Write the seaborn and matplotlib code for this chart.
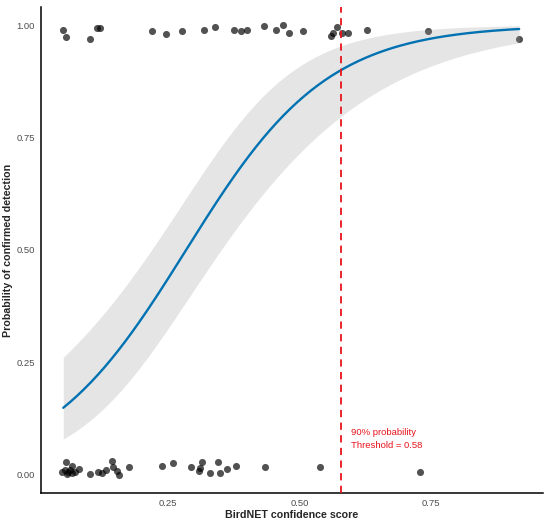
import numpy as np
import pandas as pd
import matplotlib
matplotlib.use("Agg")
import matplotlib.pyplot as plt
import seaborn as sns

top_x = [0.051, 0.0567, 0.1017, 0.1144, 0.1207, 0.219, 0.2456, 0.2766, 0.3184,
         0.3388, 0.3755, 0.3894, 0.4002, 0.4325, 0.4548, 0.468, 0.4806, 0.5072,
         0.5593, 0.5643, 0.5707, 0.5802, 0.5916, 0.6289, 0.7437, 0.9179]
top_y = [0.990, 0.973, 0.970, 0.993, 0.993, 0.986, 0.979, 0.986, 0.990,
         0.995, 0.989, 0.987, 0.989, 0.997, 0.990, 0.999, 0.982, 0.987,
         0.975, 0.982, 0.995, 0.982, 0.982, 0.989, 0.986, 0.969]
bot_x = [0.0555, 0.068, 0.0542, 0.0605, 0.0574, 0.0669, 0.0732, 0.0808, 0.0637,
         0.0494, 0.1017, 0.1179, 0.1251, 0.1318, 0.1435, 0.1449, 0.154, 0.1574,
         0.1764, 0.238, 0.2595, 0.2932, 0.3146, 0.3108, 0.3095, 0.3298, 0.345,
         0.3494, 0.3616, 0.3798, 0.4338, 0.5384, 0.7285]
bot_y = [0.028, 0.021, 0.011, 0.007, 0.002, 0.004, 0.007, 0.013, 0.011,
         0.007, 0.002, 0.007, 0.004, 0.011, 0.030, 0.017, 0.008, 0.000,
         0.018, 0.019, 0.026, 0.018, 0.028, 0.015, 0.008, 0.005, 0.029,
         0.004, 0.013, 0.021, 0.018, 0.017, 0.007]

# fitted logistic model (logit scale) and its covariance
intercept = -2.12
slope = 7.45
var_int = 0.164
cov_int_slope = -0.381
var_slope = 1.36
x_min, x_max = 0.051, 0.918
threshold = 0.58

pts = pd.DataFrame({"score": top_x + bot_x, "prob": top_y + bot_y})

grid = np.linspace(x_min, x_max, 200)
eta = intercept + slope * grid
se = np.sqrt(var_int + 2 * grid * cov_int_slope + grid ** 2 * var_slope)
inv = lambda z: 1 / (1 + np.exp(-z))
fit = pd.DataFrame({"score": grid, "prob": inv(eta),
                    "lo": inv(eta - 1.96 * se), "hi": inv(eta + 1.96 * se)})

sns.set_style("white")
plt.rcParams["font.family"] = ["Liberation Sans", "DejaVu Sans"]

fig = plt.figure(figsize=(5.5, 5.23), dpi=100)
ax = fig.add_axes([0.0745, 0.0574, 0.9125, 0.9292])

sns.scatterplot(data=pts, x="score", y="prob", ax=ax, color="black", alpha=0.68,
                s=26, linewidth=0, zorder=2)
ax.fill_between(fit["score"], fit["lo"], fit["hi"], color="#999999", alpha=0.25,
                linewidth=0, zorder=3)
sns.lineplot(data=fit, x="score", y="prob", ax=ax, color="#0072B2", linewidth=1.7,
             zorder=4)
ax.axvline(threshold, color="#E8141B", linestyle=(0, (4, 3)), linewidth=1.3, zorder=5)
ax.text(threshold + 0.019, 0.08, "90% probability\nThreshold = " + str(threshold),
        color="#E8141B", fontsize=6.8, ha="left", va="center", linespacing=1.6)

ax.set_xlim(0.0086, 0.963)
ax.set_ylim(-0.04, 1.04)
ax.set_xticks([0.25, 0.50, 0.75])
ax.set_xticklabels(["0.25", "0.50", "0.75"])
ax.set_yticks([0, 0.25, 0.5, 0.75, 1.0])
ax.set_yticklabels(["0.00", "0.25", "0.50", "0.75", "1.00"])
ax.tick_params(axis="both", labelsize=6.8, labelcolor="#4D4D4D", length=3,
               width=0.8, color="#333333", direction="out", pad=1.5)
ax.set_xlabel("BirdNET confidence score", fontsize=7.7, fontweight="bold", labelpad=1)
ax.set_ylabel("Probability of confirmed detection", fontsize=7.7, fontweight="bold",
              labelpad=2)
for side in ["top", "right"]:
    ax.spines[side].set_visible(False)
for side in ["left", "bottom"]:
    ax.spines[side].set_color("black")
    ax.spines[side].set_linewidth(1.1)

fig.savefig("out.png", dpi=100)
